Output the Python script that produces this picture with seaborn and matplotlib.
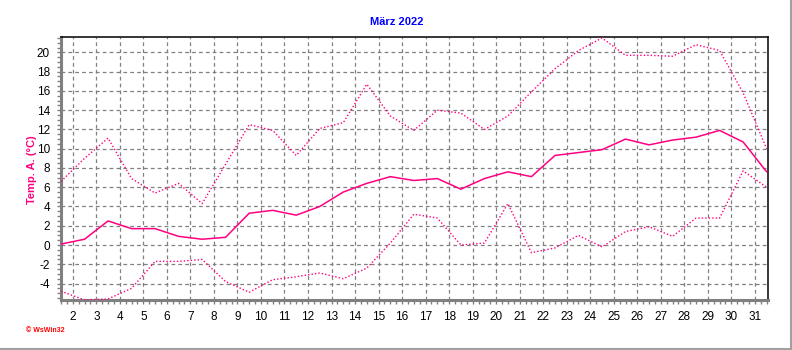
import numpy as np
import pandas as pd
import matplotlib
matplotlib.use("Agg")
import matplotlib.pyplot as plt
from matplotlib.lines import Line2D
from matplotlib.ticker import MultipleLocator
import seaborn as sns

# ---- data ----
days = list(range(1, 32))
tmax = [6.6, 9.0, 11.1, 6.9, 5.4, 6.4, 4.3, 8.4, 12.5, 11.9, 9.3, 12.1, 12.7, 16.7, 13.4, 11.9,
        14.0, 13.7, 12.0, 13.4, 15.9, 18.3, 20.2, 21.5, 19.7, 19.7, 19.6, 20.8, 20.2, 15.8, 10.0]
tmean = [0.1, 0.6, 2.5, 1.7, 1.7, 0.9, 0.6, 0.8, 3.3, 3.6, 3.1, 4.0, 5.5, 6.4, 7.1, 6.7,
         6.9, 5.8, 6.9, 7.6, 7.1, 9.3, 9.6, 9.9, 11.0, 10.4, 10.9, 11.2, 11.9, 10.7, 7.6]
tmin = [-4.8, -5.7, -5.6, -4.5, -1.7, -1.7, -1.5, -3.8, -4.9, -3.6, -3.3, -2.9, -3.5, -2.4, 0.2, 3.2,
        2.8, 0.0, 0.2, 4.3, -0.8, -0.3, 1.0, -0.2, 1.4, 1.9, 0.9, 2.8, 2.8, 7.7, 6.0]
xtick_labels = [str(d) for d in range(2, 32)]
ytick_values = list(range(-4, 21, 2))
title = "März 2022"
ylabel = "Temp. A. (°C)"
logo = "© WsWin32"

sns.set_theme(style="white")
plt.rcParams['font.family'] = ['Liberation Sans', 'DejaVu Sans']

pink = "#ff0080"
grid_c = "#808080"

fig = plt.figure(figsize=(7.92, 3.5), dpi=100)
W, H = 792, 350
ax = fig.add_axes([61 / W, 1 - 300 / H, (768.3 - 61) / W, (300 - 37.3) / H])

df = pd.DataFrame({"day": np.array(days) + 0.5, "max": tmax, "mean": tmean, "min": tmin})

sns.lineplot(data=df, x="day", y="max", ax=ax, color=pink, lw=1.0,
             linestyle=(0, (1, 1.5)), zorder=3)
sns.lineplot(data=df, x="day", y="mean", ax=ax, color=pink, lw=1.1, zorder=3)
sns.lineplot(data=df, x="day", y="min", ax=ax, color=pink, lw=1.0,
             linestyle=(0, (1, 1.5)), zorder=3)

ax.set_xlim(1.5, 31.57)
ax.set_ylim(-5.71, 21.57)

ax.set_xticks(range(2, 32))
ax.set_xticklabels(xtick_labels)
ax.set_yticks(ytick_values)
ax.set_yticklabels([str(v) for v in ytick_values])
ax.xaxis.set_minor_locator(MultipleLocator(0.25))
ax.yaxis.set_minor_locator(MultipleLocator(0.5))

ax.grid(True, which="major", color=grid_c, linestyle=(0, (3, 2.5)), lw=0.9)
ax.set_axisbelow(True)

for s in ("left", "bottom"):
    ax.spines[s].set_color(grid_c)
    ax.spines[s].set_linewidth(2.2)
for s in ("top", "right"):
    ax.spines[s].set_color("black")
    ax.spines[s].set_linewidth(1.1)

ax.tick_params(axis="both", which="both", direction="out", color=grid_c,
               labelsize=8.5, labelcolor="black")
ax.tick_params(axis="both", which="major", length=3, width=1, bottom=True, left=True)
ax.tick_params(axis="both", which="minor", length=3, width=1, bottom=True, left=True)
ax.tick_params(axis="x", pad=5)
ax.tick_params(axis="y", pad=5)

ax.set_xlabel("")
ax.set_ylabel("")

fig.text(397 / W, 1 - 22 / H, title, color="#0000ff", fontsize=8, fontweight="bold",
         ha="center", va="center")
fig.text(31.7 / W, 1 - 170 / H, ylabel, color=pink, fontsize=8, fontweight="bold",
         rotation=90, ha="center", va="center")
fig.text(26 / W, 1 - 331 / H, logo, color="#ff0000", fontsize=5, fontweight="bold",
         ha="left", va="center")

fig.add_artist(Line2D([790.5 / W, 790.5 / W], [0, 1], color="#a0a0a0", lw=1.5,
                      transform=fig.transFigure))
fig.add_artist(Line2D([0, 1], [1 - 348.5 / H, 1 - 348.5 / H], color="#a0a0a0", lw=1.5,
                      transform=fig.transFigure))

fig.savefig("out.png", dpi=100, facecolor="white")
